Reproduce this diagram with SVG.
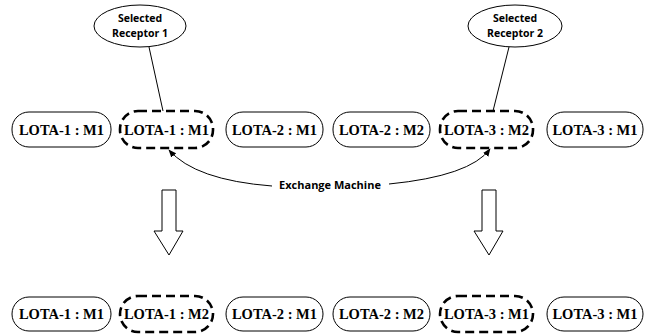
<svg xmlns="http://www.w3.org/2000/svg" width="651" height="335" viewBox="0 0 651 335">
<defs>
<style>
.p{fill:#fff;stroke:#000;stroke-width:1}
.d{fill:#fff;stroke:#000;stroke-width:2.6;stroke-dasharray:9 5}
.t{font-weight:700;font-size:14.5px;text-anchor:middle}
.e{fill:#fff;stroke:#000;stroke-width:1}
.s{font-family:'Open Sans','Liberation Sans',sans-serif;font-weight:700;font-size:10.5px;text-anchor:middle}
.c{fill:none;stroke:#000;stroke-width:1}
.b{fill:#fff;stroke:#000;stroke-width:1}
</style>
<marker id="ah" viewBox="0 0 10 10" refX="9" refY="5" markerWidth="8" markerHeight="8" orient="auto" markerUnits="userSpaceOnUse">
<path d="M0,1 L10,5 L0,9 Z" fill="#000"/>
</marker>
</defs>
<rect width="651" height="335" fill="#fff"/>
<g id="connectors">
<line class="c" x1="149" y1="47" x2="163" y2="111"/>
<line class="c" x1="509" y1="47" x2="493" y2="111"/>
<path class="c" d="M272,186 Q195,180 169,150" marker-end="url(#ah)"/>
<path class="c" d="M389,184 Q470,176 490,149" marker-end="url(#ah)"/>
<text x="330" y="189" class="s" style="font-size:11px">Exchange Machine</text>
<polygon class="b" points="162,190 176,190 176,231 183,231 169,255 154,231 162,231"/>
<polygon class="b" points="482,190 496,190 496,231 503,231 489,255 474,231 482,231"/>
</g>
<g id="receptor1">
<ellipse class="e" cx="140" cy="26" rx="46" ry="21"/>
<text class="s" x="140" y="22">Selected</text>
<text class="s" x="140" y="37">Receptor 1</text>
</g>
<g id="receptor2">
<ellipse class="e" cx="515" cy="26" rx="47" ry="21"/>
<text class="s" x="515" y="22">Selected</text>
<text class="s" x="515" y="37">Receptor 2</text>
</g>
<g font-family="Liberation Serif, serif">
<g id="top1"><rect class="p" x="12" y="112" width="99" height="35" rx="17"/><text class="t" x="61.5" y="135">LOTA-1 : M1</text></g>
<g id="top2"><rect class="d" x="120" y="111" width="93" height="37" rx="18"/><text class="t" x="166.5" y="135">LOTA-1 : M1</text></g>
<g id="top3"><rect class="p" x="226" y="112" width="97" height="35" rx="17"/><text class="t" x="274.5" y="135">LOTA-2 : M1</text></g>
<g id="top4"><rect class="p" x="333" y="112" width="97" height="35" rx="17"/><text class="t" x="381.5" y="135">LOTA-2 : M2</text></g>
<g id="top5"><rect class="d" x="440" y="111" width="93" height="37" rx="18"/><text class="t" x="486.5" y="135">LOTA-3 : M2</text></g>
<g id="top6"><rect class="p" x="547" y="112" width="96" height="35" rx="17"/><text class="t" x="595" y="135">LOTA-3 : M1</text></g>
<g id="bot1"><rect class="p" x="12" y="297" width="99" height="34" rx="17"/><text class="t" x="61.5" y="319">LOTA-1 : M1</text></g>
<g id="bot2"><rect class="d" x="120" y="296" width="93" height="36" rx="18"/><text class="t" x="166.5" y="319">LOTA-1 : M2</text></g>
<g id="bot3"><rect class="p" x="226" y="297" width="97" height="34" rx="17"/><text class="t" x="274.5" y="319">LOTA-2 : M1</text></g>
<g id="bot4"><rect class="p" x="333" y="297" width="97" height="34" rx="17"/><text class="t" x="381.5" y="319">LOTA-2 : M2</text></g>
<g id="bot5"><rect class="d" x="440" y="296" width="93" height="36" rx="18"/><text class="t" x="486.5" y="319">LOTA-3 : M1</text></g>
<g id="bot6"><rect class="p" x="547" y="297" width="96" height="34" rx="17"/><text class="t" x="595" y="319">LOTA-3 : M1</text></g>
</g>
</svg>
